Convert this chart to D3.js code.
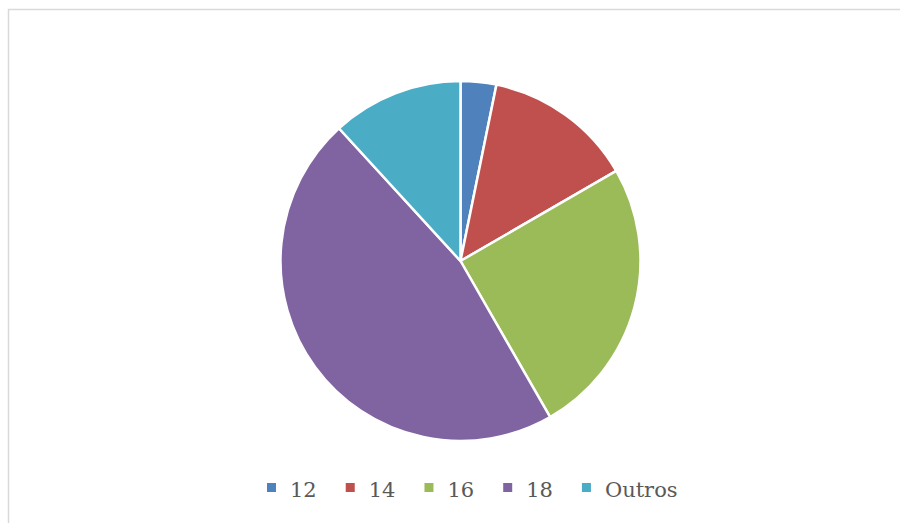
<!DOCTYPE html>
<html>
<head>
<meta charset="utf-8">
<script src="https://cdn.jsdelivr.net/npm/d3@7"></script>
<style>
  html, body { margin: 0; padding: 0; background: #fff; }
  svg { display: block; }
</style>
</head>
<body>
<svg id="chart" width="900" height="523"></svg>
<script>
// Share of each group (percent)
const categories = ["12", "14", "16", "18", "Outros"];
const values = [3.2, 13.45, 25.05, 46.5, 11.8];
const colors = ["#4F81BD", "#C0504D", "#9BBB59", "#8064A2", "#4BACC6"];

const svg = d3.select("#chart");
const W = 900, H = 523;

// Chart area frame
svg.append("rect")
  .attr("x", 8.5).attr("y", 9.5)
  .attr("width", W).attr("height", H)
  .attr("fill", "#fff")
  .attr("stroke", "#d9d9d9")
  .attr("stroke-width", 1.5);

const cx = 460.5, cy = 261, r = 180;

const pie = d3.pie().sort(null).value(d => d.v);
const arc = d3.arc().innerRadius(0).outerRadius(r);
const data = categories.map((c, i) => ({ c, v: values[i], col: colors[i] }));

svg.append("g")
  .attr("transform", `translate(${cx},${cy})`)
  .selectAll("path")
  .data(pie(data))
  .join("path")
  .attr("d", arc)
  .attr("fill", d => d.data.col)
  .attr("stroke", "#fff")
  .attr("stroke-width", 2.5)
  .attr("stroke-linejoin", "round");

// Legend along the bottom
const legend = svg.append("g");
const marker = 9;
let x = 267;
const markerY = 483, baseY = 497;
data.forEach(d => {
  legend.append("rect")
    .attr("x", x).attr("y", markerY)
    .attr("width", marker).attr("height", marker)
    .attr("fill", d.col);
  const t = legend.append("text")
    .attr("x", x + marker + 14)
    .attr("y", baseY)
    .style("font-family", "'DejaVu Serif', serif")
    .style("font-size", "21px")
    .style("fill", "#595959")
    .text(d.c);
  const w = t.node().getComputedTextLength();
  x = x + marker + 14 + w + 29;
});
</script>
</body>
</html>
